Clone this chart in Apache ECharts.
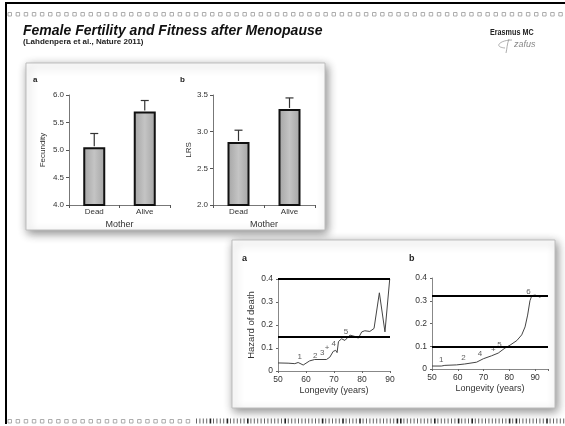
<!DOCTYPE html>
<html>
<head>
<meta charset="utf-8">
<script src="https://cdn.jsdelivr.net/npm/echarts@6/dist/echarts.min.js"></script>
<style>
  html, body { margin: 0; padding: 0; background: #fff; }
  #chart { width: 565px; height: 426px; }
</style>
</head>
<body>
<div id="chart"></div>
<script>
// ---- Bar panels: fecundity and LRS by mother's status ----
const motherStatus = ['Dead', 'Alive'];
const fecundityMean = [5.05, 5.7];
const fecundityUpper = [5.3, 5.9];
const lrsMean = [2.86, 3.31];
const lrsUpper = [3.02, 3.46];
const fecundityTicks = [4.0, 6.0, 0.5];   // min, max, step
const lrsTicks = [2.0, 3.5, 0.5];

// ---- Hazard panels: hazard of death by longevity ----
const hazardAYears = [50, 53.6, 56, 57.2, 59, 61.3, 63.1, 67.3, 68.5, 69.7, 70.6, 71.1, 71.6, 72.7, 73.9, 75.7, 77.5, 78.7, 79.9, 81, 82.8, 84.3, 86.2, 88.2, 89.9];
const hazardAValues = [0.035, 0.034, 0.032, 0.037, 0.026, 0.044, 0.05, 0.05, 0.06, 0.085, 0.09, 0.08, 0.128, 0.14, 0.133, 0.156, 0.15, 0.143, 0.17, 0.175, 0.172, 0.185, 0.34, 0.17, 0.4];
const hazardALevels = [0.4, 0.15];
const hazardAMarks = [['1', 57.8, 0.062], ['2', 63.3, 0.064], ['3', 65.8, 0.08], ['+', 67.5, 0.1], ['4', 69.9, 0.12], ['5', 74.3, 0.17], ['6', 91.2, 0.4]];

const hazardBYears = [50, 53.6, 55, 59.5, 62.7, 67.3, 69.9, 73.1, 75.7, 78.3, 80.3, 82.9, 84.8, 86.1, 87.1, 88, 88.7, 90, 92];
const hazardBValues = [0.013, 0.013, 0.016, 0.018, 0.022, 0.03, 0.045, 0.058, 0.07, 0.092, 0.105, 0.125, 0.15, 0.185, 0.237, 0.3, 0.322, 0.325, 0.315];
const hazardBLevels = [0.32, 0.105];
const hazardBMarks = [['1', 53.6, 0.042], ['2', 62.2, 0.048], ['4', 68.6, 0.065], ['+', 73.8, 0.085], ['5', 76.2, 0.105], ['6', 87.4, 0.34]];
const longevityTicks = [50, 90, 10];
const hazardTicks = [0, 0.4, 0.1];

const FONT = '"Liberation Sans", Arial, sans-serif';
const TXT = '#333';

const chart = echarts.init(document.getElementById('chart'), null, { renderer: 'canvas' });

// decorative slide frame pieces
const deco = [];
deco.push({ type: 'rect', z: -20, shape: { x: 5, y: 2, width: 560, height: 2 }, style: { fill: '#000' } });
deco.push({ type: 'rect', z: -20, shape: { x: 5, y: 2, width: 2, height: 422 }, style: { fill: '#000' } });
for (let x = 8; x < 562; x += 8.1) {
  deco.push({ type: 'rect', z: -20, shape: { x: x, y: 12.5, width: 3.5, height: 3.5 }, style: { fill: 'none', stroke: '#999', lineWidth: 0.8 } });
}
for (let x = 8; x < 190; x += 8.1) {
  deco.push({ type: 'rect', z: -20, shape: { x: x, y: 419.5, width: 3.5, height: 3.5 }, style: { fill: 'none', stroke: '#999', lineWidth: 0.8 } });
}
let k = 0;
for (let x = 196; x < 564; x += 3.4, k++) {
  const heavy = (k % 11 === 4) || (k % 17 === 9);
  deco.push({ type: 'rect', z: -20, shape: { x: x, y: 418.5, width: heavy ? 1.6 : 1, height: 5 }, style: { fill: heavy ? '#222' : '#666' } });
}

// white panels with drop shadows
const panels = [
  { type: 'rect', z: -10, shape: { x: 26, y: 63, width: 299, height: 167 },
    style: { fill: '#fff', stroke: '#bdbdbd', lineWidth: 1, shadowBlur: 9, shadowColor: 'rgba(0,0,0,0.45)', shadowOffsetX: 2, shadowOffsetY: 3 } },
  { type: 'rect', z: -10, shape: { x: 232, y: 240, width: 323, height: 168 },
    style: { fill: '#fff', stroke: '#bdbdbd', lineWidth: 1, shadowBlur: 9, shadowColor: 'rgba(0,0,0,0.45)', shadowOffsetX: 2, shadowOffsetY: 3 } }
];

const texts = [
  { type: 'text', z: 10, x: 23, y: 24, style: { text: 'Female Fertility and Fitness after Menopause', font: 'italic bold 14px ' + FONT, fill: '#111' } },
  { type: 'text', z: 10, x: 23, y: 38, style: { text: '(Lahdenpera et al., Nature 2011)', font: 'bold 8px ' + FONT, fill: '#222' } },
  { type: 'text', z: 10, x: 490, y: 28, scaleX: 0.8, style: { text: 'Erasmus MC', font: 'bold 9px ' + FONT, fill: '#222' } },
  { type: 'text', z: 10, x: 514, y: 40, style: { text: 'zafus', font: 'italic 9px ' + FONT, fill: '#888' } },
  { type: 'bezierCurve', z: 10, shape: { x1: 512, y1: 40, cpx1: 500, cpy1: 40, cpx2: 493, cpy2: 47, x2: 505, y2: 48 },
    style: { fill: 'none', stroke: '#999', lineWidth: 0.8 } },
  { type: 'bezierCurve', z: 10, shape: { x1: 509, y1: 39, cpx1: 507, cpy1: 44, cpx2: 507, cpy2: 49, x2: 506, y2: 53 },
    style: { fill: 'none', stroke: '#999', lineWidth: 0.8 } },
  { type: 'text', z: 10, x: 33, y: 76, style: { text: 'a', font: 'bold 8px ' + FONT, fill: '#222' } },
  { type: 'text', z: 10, x: 180, y: 76, style: { text: 'b', font: 'bold 8px ' + FONT, fill: '#222' } },
  { type: 'text', z: 10, x: 242, y: 254, style: { text: 'a', font: 'bold 9px ' + FONT, fill: '#222' } },
  { type: 'text', z: 10, x: 409, y: 254, style: { text: 'b', font: 'bold 9px ' + FONT, fill: '#222' } }
];

function barXAxis(gi) {
  return {
    type: 'category', gridIndex: gi, data: motherStatus,
    axisLine: { lineStyle: { color: '#777', width: 1 } },
    axisTick: { show: true, length: 3, lineStyle: { color: '#555' } },
    axisLabel: { color: TXT, fontSize: 8, fontFamily: FONT, margin: 3 },
    name: 'Mother', nameLocation: 'middle', nameGap: 15,
    nameTextStyle: { color: TXT, fontSize: 9, fontFamily: FONT }
  };
}
function barYAxis(gi, ticks, name, gap) {
  return {
    type: 'value', gridIndex: gi, min: ticks[0], max: ticks[1], interval: ticks[2],
    axisLine: { show: true, lineStyle: { color: '#777', width: 1 } },
    axisTick: { show: true, length: 3, lineStyle: { color: '#555' } },
    splitLine: { show: false },
    axisLabel: { color: TXT, fontSize: 8, fontFamily: FONT, margin: 5, formatter: v => v.toFixed(1) },
    name: name, nameLocation: 'middle', nameGap: gap,
    nameTextStyle: { color: TXT, fontSize: 8, fontFamily: FONT }
  };
}
function hazXAxis(gi, max) {
  return {
    type: 'value', gridIndex: gi, min: longevityTicks[0], max: max, interval: longevityTicks[2],
    axisLine: { show: true, lineStyle: { color: '#888', width: 1 } },
    axisTick: { show: true, length: 2, lineStyle: { color: '#666' } },
    splitLine: { show: false },
    axisLabel: { color: TXT, fontSize: 8.5, fontFamily: FONT, margin: 4,
      formatter: v => (v % 10 === 0 ? String(v) : '') },
    name: 'Longevity (years)', nameLocation: 'middle', nameGap: 15,
    nameTextStyle: { color: TXT, fontSize: 9, fontFamily: FONT }
  };
}
function hazYAxis(gi, name) {
  return {
    type: 'value', gridIndex: gi, min: hazardTicks[0], max: hazardTicks[1], interval: hazardTicks[2],
    axisLine: { show: true, lineStyle: { color: '#888', width: 1 } },
    axisTick: { show: true, length: 2, lineStyle: { color: '#666' } },
    splitLine: { show: false },
    axisLabel: { color: TXT, fontSize: 8.5, fontFamily: FONT, margin: 5, formatter: v => (v === 0 ? '0' : v.toFixed(1)) },
    name: name, nameLocation: 'middle', nameGap: 22,
    nameTextStyle: { color: TXT, fontSize: 9.5, fontFamily: FONT }
  };
}

const barFill = {
  type: 'linear', x: 0, y: 0, x2: 1, y2: 0,
  colorStops: [{ offset: 0, color: '#a4a4a4' }, { offset: 0.5, color: '#c4c4c4' }, { offset: 1, color: '#a4a4a4' }]
};

function barSeries(gi, values) {
  return {
    type: 'bar', xAxisIndex: gi, yAxisIndex: gi, data: values, barWidth: 22, z: 3,
    itemStyle: { color: barFill, borderColor: '#111', borderWidth: 2 },
    silent: true
  };
}
function errorSeries(gi, means, uppers) {
  return {
    type: 'custom', xAxisIndex: gi, yAxisIndex: gi, z: 4, silent: true,
    data: means.map((m, i) => [i, m, uppers[i]]),
    renderItem: (params, api) => {
      const base = api.coord([api.value(0), api.value(1)]);
      const top = api.coord([api.value(0), api.value(2)]);
      const w = 4;
      return {
        type: 'group', children: [
          { type: 'line', shape: { x1: base[0], y1: base[1] - 1, x2: top[0], y2: top[1] }, style: { stroke: '#333', lineWidth: 1.2 } },
          { type: 'line', shape: { x1: top[0] - w, y1: top[1], x2: top[0] + w, y2: top[1] }, style: { stroke: '#333', lineWidth: 1.2 } }
        ]
      };
    }
  };
}
function hazardLine(gi, years, values, levels) {
  return {
    type: 'line', xAxisIndex: gi, yAxisIndex: gi, silent: true, symbol: 'none',
    data: years.map((y, i) => [y, values[i]]),
    lineStyle: { color: '#444', width: 1 },
    markLine: {
      silent: true, symbol: 'none', label: { show: false },
      lineStyle: { color: '#000', width: 2, type: 'solid' },
      data: levels.map(v => ({ yAxis: v }))
    }
  };
}
function markSeries(gi, marks) {
  return {
    type: 'scatter', xAxisIndex: gi, yAxisIndex: gi, silent: true, symbolSize: 0,
    data: marks.map(m => ({ name: m[0], value: [m[1], m[2]] })),
    label: { show: true, position: 'inside', formatter: p => p.name, color: '#333', fontSize: 8, fontFamily: FONT }
  };
}

const option = {
  animation: false,
  backgroundColor: '#fff',
  graphic: { elements: deco.concat(panels, texts) },
  grid: [
    { left: 69, top: 95, width: 101, height: 110 },
    { left: 213, top: 95, width: 102, height: 110 },
    { left: 278, top: 279, width: 112, height: 92 },
    { left: 432, top: 278, width: 116, height: 91 }
  ],
  xAxis: [barXAxis(0), barXAxis(1), hazXAxis(2, 90), hazXAxis(3, 95)],
  yAxis: [
    barYAxis(0, fecundityTicks, 'Fecundity', 22),
    barYAxis(1, lrsTicks, 'LRS', 20),
    hazYAxis(2, 'Hazard of death'),
    hazYAxis(3, '')
  ],
  series: [
    barSeries(0, fecundityMean), errorSeries(0, fecundityMean, fecundityUpper),
    barSeries(1, lrsMean), errorSeries(1, lrsMean, lrsUpper),
    hazardLine(2, hazardAYears, hazardAValues, hazardALevels), markSeries(2, hazardAMarks),
    hazardLine(3, hazardBYears, hazardBValues, hazardBLevels), markSeries(3, hazardBMarks)
  ]
};
chart.setOption(option);
</script>
</body>
</html>
